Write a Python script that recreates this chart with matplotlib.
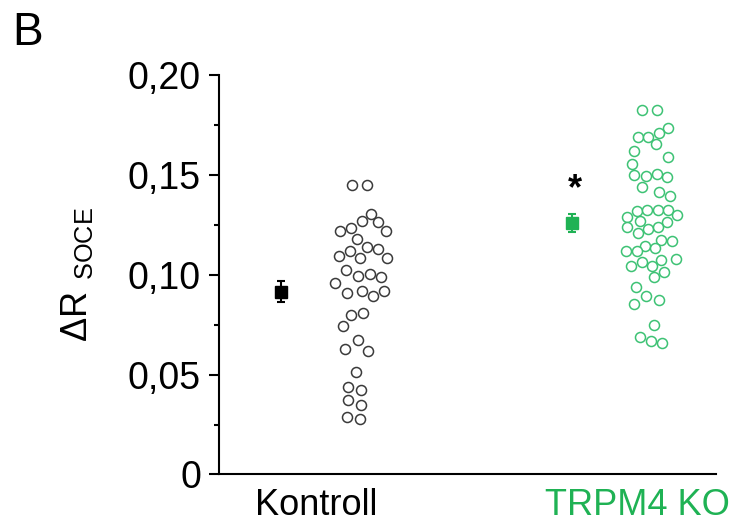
import matplotlib
matplotlib.use("Agg")
import matplotlib.pyplot as plt
from matplotlib.ticker import FixedLocator, MultipleLocator

plt.rcParams['font.family'] = ['Liberation Sans', 'DejaVu Sans']
plt.rcParams['mathtext.fontset'] = 'custom'
plt.rcParams['mathtext.rm'] = 'Liberation Sans'

# ---------------- data ----------------
groups = ["Kontroll", "TRPM4 KO"]
group_label_pos = [97, 419]          # x positions of the category labels (axis units)
mean_pos = [62, 353.5]               # x positions of mean markers
means = [0.0915, 0.126]
sems = [0.0054, 0.0044]

kontroll_x = [132.7, 147.7, 151.7, 142.7, 159.3, 131.7, 121, 167, 138.3, 148.3,
              159.3, 131, 120, 141, 167.7, 127, 139.3, 151, 161.7, 116,
              128.3, 143.3, 154.3, 165, 131.7, 144.3, 123.7, 139.3, 126, 149.3,
              136.7, 129.3, 141.7, 129.3, 141.7, 128.3, 141]
kontroll_y = [0.145, 0.145, 0.1303, 0.1267, 0.1263, 0.1233, 0.1217, 0.1217, 0.118, 0.1138,
              0.113, 0.112, 0.1095, 0.1083, 0.1083, 0.1022, 0.0992, 0.1003, 0.0987, 0.0958,
              0.0908, 0.0917, 0.0892, 0.0917, 0.080, 0.0808, 0.0742, 0.0672, 0.063, 0.062,
              0.0512, 0.0438, 0.0422, 0.0375, 0.035, 0.0288, 0.0278]

ko_x = [423.3, 438.3, 449.3, 440.3, 419.3, 429.3, 437, 415.3, 449.3, 412.7,
        415.3, 427, 438.3, 447.7, 422.7, 440.3, 451, 417.7, 428.3, 439.3,
        448.7, 457.7, 407.7, 421, 448.3, 407.7, 429.3, 439.3, 418.7, 442,
        453.3, 426, 436, 407, 417.7, 456.7, 442, 422.7, 432.7, 411.7,
        445.3, 435.3, 416.7, 427, 440, 415.3, 435, 421, 432, 442.7]
ko_y = [0.1825, 0.1825, 0.1737, 0.1708, 0.1692, 0.1692, 0.1653, 0.1617, 0.1588, 0.1555,
        0.1497, 0.1492, 0.1505, 0.1487, 0.1437, 0.1413, 0.1395, 0.1317, 0.1322, 0.1322,
        0.1325, 0.1297, 0.1287, 0.1267, 0.1262, 0.1237, 0.123, 0.1237, 0.1208, 0.1175,
        0.117, 0.1142, 0.1133, 0.1117, 0.1117, 0.108, 0.1075, 0.1063, 0.1042, 0.1042,
        0.1012, 0.0987, 0.0937, 0.0892, 0.0875, 0.0853, 0.075, 0.0687, 0.067, 0.0658]

star_x, star_y = 356, 0.1425
ytick_vals = [0, 0.05, 0.10, 0.15, 0.20]
ytick_labels = ["0", "0,05", "0,10", "0,15", "0,20"]

# ---------------- style ----------------
green = "#1fb254"
green_pt = "#3dc274"
grey_pt = "#3a3a3a"

fig = plt.figure(figsize=(7.36, 5.24), dpi=100)
ax = fig.add_axes([0.2976, 0.0945, 0.675, 0.7624])

ax.scatter(kontroll_x, kontroll_y, s=52, facecolors="white", edgecolors=grey_pt,
           linewidths=1.1, zorder=3)
ax.scatter(ko_x, ko_y, s=52, facecolors="white", edgecolors=green_pt,
           linewidths=1.1, zorder=3)

for xp, m, e, c in zip(mean_pos, means, sems, ["black", green]):
    ax.errorbar(xp, m, yerr=e, fmt="s", color=c, ms=8.8, capsize=3,
                elinewidth=1.5, capthick=1.5, zorder=4)

ax.text(star_x, star_y, "*", ha="center", va="center", fontsize=26,
        fontweight="bold", color="black")

ax.set_xlim(0, 497)
ax.set_ylim(0, 0.20)
ax.spines["top"].set_visible(False)
ax.spines["right"].set_visible(False)
ax.spines["left"].set_linewidth(1.5)
ax.spines["bottom"].set_linewidth(1.5)

ax.yaxis.set_major_locator(FixedLocator(ytick_vals))
ax.set_yticklabels(ytick_labels, fontsize=27)
ax.yaxis.set_minor_locator(MultipleLocator(0.025))
ax.tick_params(axis="y", which="major", length=7, width=1.5, pad=6, direction="out")
ax.tick_params(axis="y", which="minor", length=3.5, width=1.5, direction="out")

ax.set_xticks(group_label_pos)
ax.set_xticklabels(groups, fontsize=26)
ax.tick_params(axis="x", length=0, pad=10)
for lbl, c in zip(ax.get_xticklabels(), ["black", green]):
    lbl.set_color(c)

ax.set_ylabel(r"$\mathregular{\Delta R\ _{SOCE}}$", fontsize=26, labelpad=24)

fig.text(0.017, 0.915, "B", fontsize=33, ha="left", va="baseline")

fig.savefig("out.png", dpi=100)
